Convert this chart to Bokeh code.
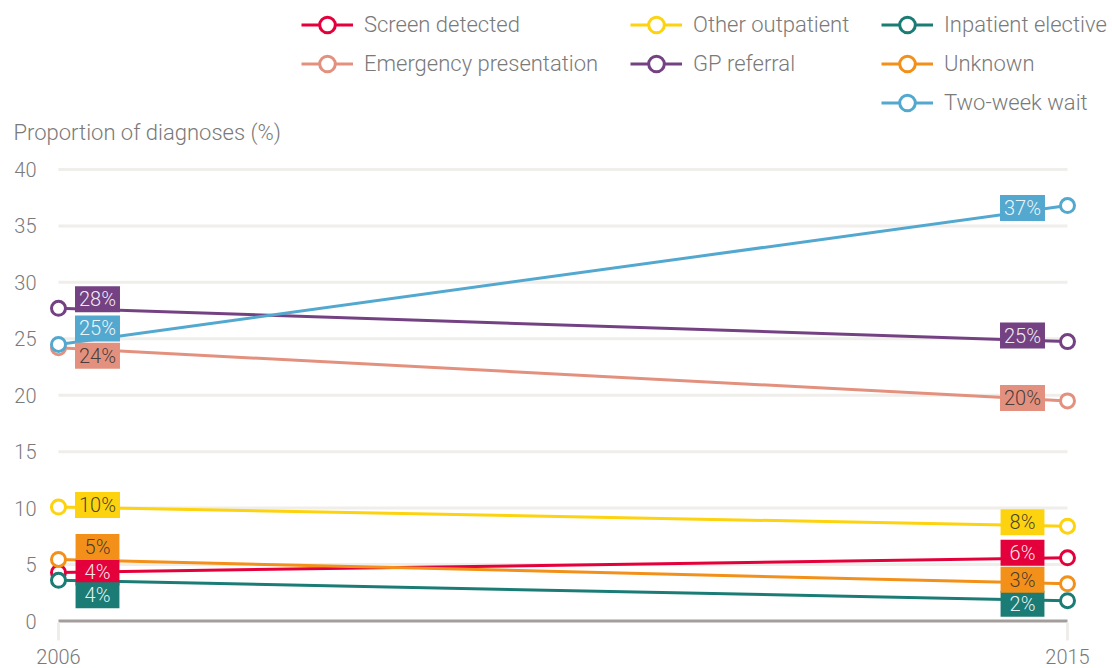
from bokeh.plotting import figure
from bokeh.models import Range1d, FixedTicker, Legend, LegendItem, Label
from bokeh.core.properties import value
from bokeh.embed import file_html
from bokeh.resources import INLINE

# Route to diagnosis, share of diagnoses (%) in 2006 and 2015
years = [2006, 2015]
year_labels = ["2006", "2015"]
series_names = ["Screen detected", "Emergency presentation", "Other outpatient",
                "GP referral", "Inpatient elective", "Unknown", "Two-week wait"]
screen_detected = [4.3, 5.6]
emergency_presentation = [24.2, 19.5]
other_outpatient = [10.1, 8.4]
gp_referral = [27.7, 24.75]
inpatient_elective = [3.6, 1.8]
unknown = [5.45, 3.3]
two_week_wait = [24.5, 36.8]
y_ticks = [0, 5, 10, 15, 20, 25, 30, 35, 40]

series_values = [screen_detected, emergency_presentation, other_outpatient,
                 gp_referral, inpatient_elective, unknown, two_week_wait]

# styling
colors = ["#e4003b", "#e3917e", "#fdd20e", "#744283", "#1b7c75", "#f39019", "#53a8d0"]
label_text_colors = ["#ffffff", "#333333", "#333333", "#ffffff", "#ffffff", "#333333", "#ffffff"]
# vertical nudges (px, positive = up) of the value tags so they do not collide
start_nudge = [0, -8, 2, 9, -15, 12.5, 16]
end_nudge = [5, 3, 4, 6, -3, 4, -2.5]

FONT = "Roboto Light"
GREY = "#7a7a7a"
FRAME_BOTTOM = 630  # canvas px; the frame fills everything above the x axis

# the frame covers the whole canvas above the x axis, so the legend, caption and
# value scale can all sit inside it
p = figure(width=1112, height=668, output_backend="svg", toolbar_location=None,
           x_range=Range1d(2005.4827, 2015.4014), y_range=Range1d(-0.8415, 54.97),
           y_axis_location=None,
           min_border_left=0, min_border_right=0, min_border_top=0,
           min_border_bottom=668 - FRAME_BOTTOM)
p.outline_line_color = None
p.background_fill_color = "white"
p.border_fill_color = "white"
p.xgrid.visible = False
p.ygrid.visible = False

# x axis: light stubs hanging from the baseline plus year labels
p.xaxis.ticker = FixedTicker(ticks=years)
p.xaxis.major_label_overrides = {y: s for y, s in zip(years, year_labels)}
p.xaxis.axis_line_color = None
p.xaxis.minor_tick_line_color = None
p.xaxis.major_tick_line_color = "#eeede9"
p.xaxis.major_tick_line_width = 3
p.xaxis.major_tick_in = 8
p.xaxis.major_tick_out = 10
p.xaxis.major_label_standoff = 8
p.xaxis.major_label_text_font = FONT
p.xaxis.major_label_text_font_size = "20px"
p.xaxis.major_label_text_color = GREY

# horizontal grid lines spanning only the data years, darker baseline at zero
grid_vals = y_ticks[1:]
p.segment(x0=[years[0]] * len(grid_vals), x1=[years[-1]] * len(grid_vals),
          y0=grid_vals, y1=grid_vals, line_color="#efeeea", line_width=3)
p.segment(x0=[years[0]], x1=[years[-1]], y0=[y_ticks[0]], y1=[y_ticks[0]],
          line_color="#a39d9b", line_width=3)

# value scale to the left of the grid
p.text(x=[years[0]] * len(y_ticks), y=y_ticks, text=[str(t) for t in y_ticks],
       x_offset=-22, text_align="right", text_baseline="middle",
       text_font=value(FONT), text_font_size="20px", text_color=GREY)

items = []
for name, vals, col in zip(series_names, series_values, colors):
    ln = p.line(years, vals, line_color=col, line_width=3)
    sc = p.scatter(years, vals, size=14, marker="circle", fill_color="white",
                   line_color=col, line_width=3)
    items.append(LegendItem(label=name, renderers=[ln, sc]))


def tag_padding(text):
    # keeps every tag about the same width
    h = 4 if len(text) >= 3 else 9
    return dict(left=h, right=h, top=1, bottom=1)


for vals, col, tcol, n0, n1 in zip(series_values, colors, label_text_colors, start_nudge, end_nudge):
    for yr, v, dx, dy in ((years[0], vals[0], 39, n0), (years[-1], vals[-1], -45, n1)):
        txt = f"{int(v + 0.5)}%"
        p.add_layout(Label(x=yr, y=v, x_offset=dx, y_offset=dy, text=txt,
                           text_align="center", text_baseline="middle",
                           text_font=FONT, text_font_size="20px",
                           text_color=tcol, text_alpha=0.9,
                           background_fill_color=col, padding=tag_padding(txt)))

# axis caption
p.add_layout(Label(x=13, y=FRAME_BOTTOM - 132, x_units="screen", y_units="screen",
                   text="Proportion of diagnoses (%)", text_font=FONT,
                   text_font_size="22px", text_color=GREY,
                   text_align="left", text_baseline="middle"))

# legend in three columns above the chart
cols = [(items[0:2], 301), (items[2:4], 630), (items[4:7], 881)]
for its, lx in cols:
    h = 39 * len(its)
    leg = Legend(items=its, location=(lx, FRAME_BOTTOM - 5 - h), orientation="vertical",
                 glyph_width=52, glyph_height=39, label_standoff=11, spacing=0,
                 padding=0, margin=0, border_line_color=None, background_fill_alpha=0,
                 label_text_font=FONT, label_text_font_size="22px",
                 label_text_color=GREY, label_text_baseline="middle")
    p.add_layout(leg, "center")

open("out.html", "w").write(file_html(p, INLINE))
